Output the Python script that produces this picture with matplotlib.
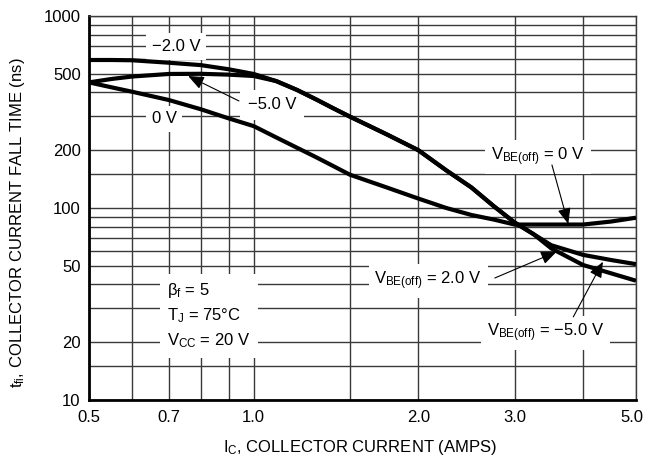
import matplotlib
matplotlib.use('Agg')
import matplotlib.pyplot as plt
import matplotlib.transforms as mtransforms
from matplotlib.ticker import NullFormatter

plt.rcParams['font.family'] = ['Liberation Sans', 'DejaVu Sans']
plt.rcParams['mathtext.fontset'] = 'custom'
plt.rcParams['mathtext.rm'] = 'Liberation Sans'
plt.rcParams['mathtext.it'] = 'Liberation Sans'
plt.rcParams['mathtext.bf'] = 'Liberation Sans:bold'

# collector current (A) vs. fall time (ns) for each V_BE(off)
ic = [0.5, 0.55, 0.6, 0.7, 0.8, 0.9, 1.0, 1.1, 1.2, 1.3, 1.4, 1.5, 1.75, 2.0,
      2.25, 2.5, 2.75, 3.0, 3.25, 3.5, 4.0, 4.5, 5.0]
tf_0v = [451, 425, 403, 365, 327, 293, 267, 233, 206, 184, 165, 149, 128, 112,
         100, 92, 87, 82, 82, 82, 82, 85, 89]
tf_neg2v = [590, 590, 588, 571, 555, 528, 499, 458, 412, 368, 330, 299, 242, 200,
            157, 128, 102, 84, 73, 61.6, 50.5, 45.7, 41.8]
tf_neg5v = [451, 470, 484, 499, 500, 495, 487, 458, 412, 368, 330, 299, 242, 200,
            157, 128, 102, 84, 73, 64, 57, 53.6, 51]

x_labeled = [0.5, 0.7, 1.0, 2.0, 3.0, 5.0]
x_grid = [0.6, 0.8, 0.9, 1.5, 4.0]
y_labeled = [10, 20, 50, 100, 200, 500, 1000]
y_grid = [15, 30, 40, 60, 70, 80, 90, 150, 300, 400, 600, 700, 800, 900]

grid_col = '#3a3a3a'
fs = 12

fig = plt.figure(figsize=(6.45, 4.61), dpi=100)
ax = fig.add_axes([89 / 645, 61 / 461, 547 / 645, 384 / 461])
ax.set_xscale('log')
ax.set_yscale('log')
ax.set_xlim(0.5, 5.0)
ax.set_ylim(10, 1000)

ax.set_xticks(x_labeled, labels=[f'{v:.1f}' for v in x_labeled])
ax.set_xticks(x_grid, minor=True)
ax.set_yticks(y_labeled, labels=[str(v) for v in y_labeled])
ax.set_yticks(y_grid, minor=True)
ax.xaxis.set_minor_formatter(NullFormatter())
ax.yaxis.set_minor_formatter(NullFormatter())
ax.tick_params(which='both', length=0, labelsize=fs)
ax.tick_params(axis='y', pad=6)
ax.tick_params(axis='x', pad=7)
ax.grid(which='both', color=grid_col, lw=1.0)

# nudge the last x label so it stays inside the figure
last = ax.get_xticklabels()[-1]
last.set_transform(last.get_transform() +
                   mtransforms.ScaledTranslation(-4 / 100, 0, fig.dpi_scale_trans))

for s in ['left', 'bottom']:
    ax.spines[s].set_linewidth(2.0)
    ax.spines[s].set_color('black')
for s in ['top', 'right']:
    ax.spines[s].set_linewidth(1.0)
    ax.spines[s].set_color(grid_col)

for tf in [tf_0v, tf_neg2v, tf_neg5v]:
    ax.plot(ic, tf, color='black', lw=3.0, solid_capstyle='butt',
            solid_joinstyle='round', zorder=4)

box = dict(boxstyle='square,pad=0.35', fc='white', ec='none')
arrow = dict(arrowstyle='-|>,head_length=0.6,head_width=0.25', color='black',
             lw=0.8, mutation_scale=16, shrinkA=0, shrinkB=0)

ax.text(0.721, 692, '\u22122.0 V', ha='center', va='center', fontsize=fs, bbox=box)
ax.text(0.686, 291, '0 V', ha='center', va='center', fontsize=fs, bbox=box)
ax.text(0.976, 344, '\u22125.0 V', ha='left', va='center', fontsize=fs,
        bbox=dict(boxstyle='square,pad=0.45', fc='white', ec='none'))
ax.annotate('', xy=(0.759, 487), xytext=(0.94, 361), arrowprops=arrow, zorder=5)

ax.text(3.31, 184.5, r'$V_{BE(off)}$ = 0 V', ha='center', va='center', fontsize=fs, bbox=box)
ax.annotate('', xy=(3.76, 82.6), xytext=(3.51, 167.5), arrowprops=arrow, zorder=5)

ax.text(2.085, 41.7, r'$V_{BE(off)}$ = 2.0 V', ha='center', va='center', fontsize=fs, bbox=box)
ax.annotate('', xy=(3.58, 59.2), xytext=(2.76, 43.2), arrowprops=arrow, zorder=5)

ax.text(3.42, 22.3, r'$V_{BE(off)}$ = $-$5.0 V', ha='center', va='center', fontsize=fs, bbox=box)
ax.annotate('', xy=(4.35, 52.5), xytext=(3.84, 27.1), arrowprops=arrow, zorder=5)

ax.text(0.695, 27.4, '$\\beta_f$ = 5\n$T_J$ = 75\u00b0C\n$V_{CC}$ = 20 V',
        ha='left', va='center', fontsize=fs, linespacing=1.45,
        bbox=dict(boxstyle='square,pad=0.45', fc='white', ec='none'))

fig.text(18 / 645, 1 - 223 / 461, r'$t_{fi}$, COLLECTOR CURRENT FALL TIME (ns)',
         rotation=90, ha='center', va='center', fontsize=fs)
fig.text(360 / 645, 1 - 447 / 461, r'$I_C$, COLLECTOR CURRENT (AMPS)',
         ha='center', va='center', fontsize=fs)

fig.savefig('out.png', dpi=100)
